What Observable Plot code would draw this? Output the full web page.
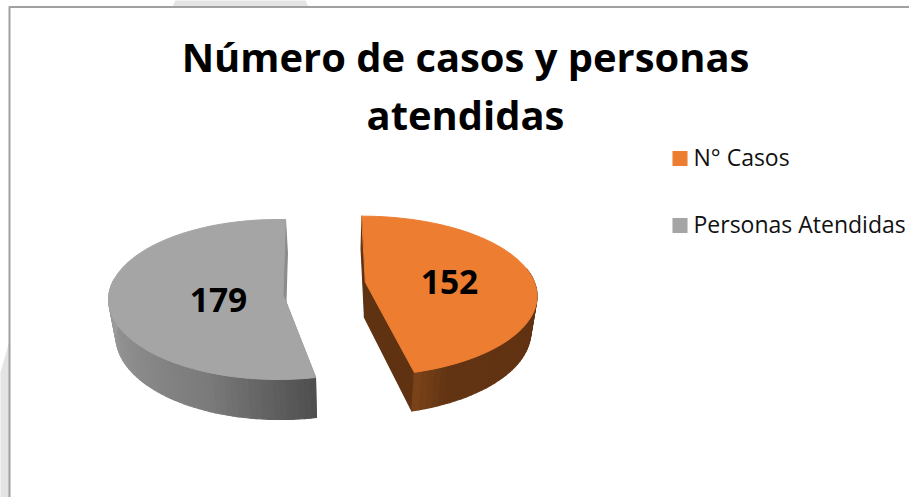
<!DOCTYPE html>
<html>
<head>
<meta charset="utf-8">
<script src="https://cdn.jsdelivr.net/npm/d3@7"></script>
<script src="https://cdn.jsdelivr.net/npm/@observablehq/plot@0.6"></script>
<style>html,body{margin:0;padding:0;background:#fff}svg{display:block}</style>
</head>
<body>
<div id="chart"></div>
<script>
const categories = ["N° Casos", "Personas Atendidas"];
const values = [152, 179];
const titleLines = ["Número de casos y personas", "atendidas"];

const W = 909, H = 497, FONT = "Open Sans";
const total = d3.sum(values);
// Layout of each exploded slice in the picture's perspective
const layout = [
  {start: 0, cx: 361.5, cy: 282, ax: 365, ay: 282, A: 172.5, B: 77.6, k: 0.17, dApex: 35, shift: -1,
   top: "#ed7d31", wall: ["#7c4419", "#633413", "#5b2f0f"], face: "#5f3212", lx: 449, ly: 283, ky: 158, wallFrom: 80, wallTo: 180},
  {start: 168, cx: 277.5, cy: 294, ax: 282.5, ay: 294, A: 169, B: 79.7, k: 0.0625, dApex: 36.6, shift: 2,
   top: "#a5a5a5", wall: ["#4e4e4e", "#7b7b7b", "#9c9c9c"], face: "#8c8c8c", lx: 218, ly: 301, ky: 225, wallFrom: 160, wallTo: 280}
];
const bottomScaleX = 0.97, bottomScaleY = 1.04;

function rimPoint(s, deg) {
  const t = deg * Math.PI / 180, u = Math.sin(t), v = Math.cos(t), w = 1 + s.k * v;
  return [s.cx + s.A * u / w, s.cy - s.B * v / w];
}
function lower(s, p) {
  return [s.ax + s.shift + bottomScaleX * (p[0] - s.ax), s.ay + s.dApex + bottomScaleY * (p[1] - s.ay)];
}

const wallPts = [], topPts = [];
let id = 0;
function poly(target, corners, color) {
  id++;
  corners.forEach(c => target.push({id, x: c[0], y: c[1], color}));
}
values.forEach((val, i) => {
  const s = layout[i], sweep = val / total * 360, end = s.start + sweep;
  const apexTop = [s.ax, s.ay], apexBot = [s.ax + s.shift, s.ay + s.dApex];
  const wallColor = d3.scaleLinear().domain([0, i === 0 ? 0.06 : 0.35, 1]).range(s.wall).interpolate(d3.interpolateRgb);
  const first = rimPoint(s, s.start), last = rimPoint(s, end);
  // cut faces
  poly(wallPts, [first, apexTop, apexBot, lower(s, first)], s.face);
  poly(wallPts, [last, apexTop, apexBot, lower(s, last)], s.face);
  // outer wall in short strips for the shading; only the part facing the viewer
  const n = Math.ceil(sweep / 2);
  for (let j = 0; j < n; j++) {
    const a = s.start + sweep * j / n, b = s.start + sweep * (j + 1) / n;
    if (b < s.wallFrom || a > s.wallTo + 90 || (i === 1 && a > s.wallTo)) continue;
    const pa = rimPoint(s, a), pb = rimPoint(s, b);
    const f = i === 0 ? 1 - (j + 0.5) / n : (j + 0.5) / n * 1.9;
    poly(wallPts, [pa, pb, lower(s, pb), lower(s, pa)], d3.color(wallColor(Math.min(1, f))).formatHex());
  }
  // top surface
  const c = [];
  for (let j = 0; j <= 120; j++) c.push(rimPoint(s, s.start + sweep * j / 120));
  c.push(apexTop);
  poly(topPts, c, s.top);
});

const chart = Plot.plot({
  width: W, height: H, margin: 0,
  x: {domain: [0, W], range: [0, W], axis: null},
  y: {domain: [0, H], range: [0, H], axis: null},
  style: {background: "#fff", fontFamily: FONT},
  marks: [
    // pale watermark shapes behind the chart frame
    Plot.line([[175,0],[172,6],[308,6],[305,0]].map(p => ({x:p[0],y:p[1]})), {x:"x", y:"y", fill:"#e4e4e4", stroke:null, curve:"linear-closed"}),
    Plot.line([[0,372],[9,340],[9,497],[0,497]].map(p => ({x:p[0],y:p[1]})), {x:"x", y:"y", fill:"#e4e4e4", stroke:null, curve:"linear-closed"}),
    // frame
    Plot.line([{x:9,y:497},{x:9,y:6.5},{x:909,y:6.5}], {x:"x", y:"y", stroke:"#a0a0a0", strokeWidth:2, curve:"linear"}),
    // pie
    Plot.line(wallPts, {x:"x", y:"y", z:"id", fill:"color", stroke:"color", strokeWidth:1.2, curve:"linear-closed"}),
    Plot.line(topPts, {x:"x", y:"y", z:"id", fill:"color", stroke:"color", strokeWidth:1, curve:"linear-closed"}),
    // data labels
    Plot.text(values.map((v,i)=>({v, x:layout[i].lx, y:layout[i].ly})), {x:"x", y:"y", text:d=>String(d.v), fontSize:33.5, fontWeight:700, fill:"#000", fontFamily:FONT}),
    // title
    Plot.text(titleLines.map((t,i)=>({t, y:59+i*58})), {x:()=>465, y:"y", text:"t", fontSize:39.9, fontWeight:700, fill:"#000", fontFamily:FONT}),
    // legend
    Plot.dot(categories.map((c,i)=>({c, y:layout[i].ky, color:layout[i].top})), {x:()=>679.5, y:"y", symbol:"square", r:8.5, fill:"color", stroke:null}),
    Plot.text(categories.map((c,i)=>({c, y:layout[i].ky})), {x:()=>693, y:"y", text:"c", textAnchor:"start", fontSize:23, fill:"#111", fontFamily:FONT})
  ]
});
document.getElementById("chart").append(chart);
</script>
</body>
</html>
